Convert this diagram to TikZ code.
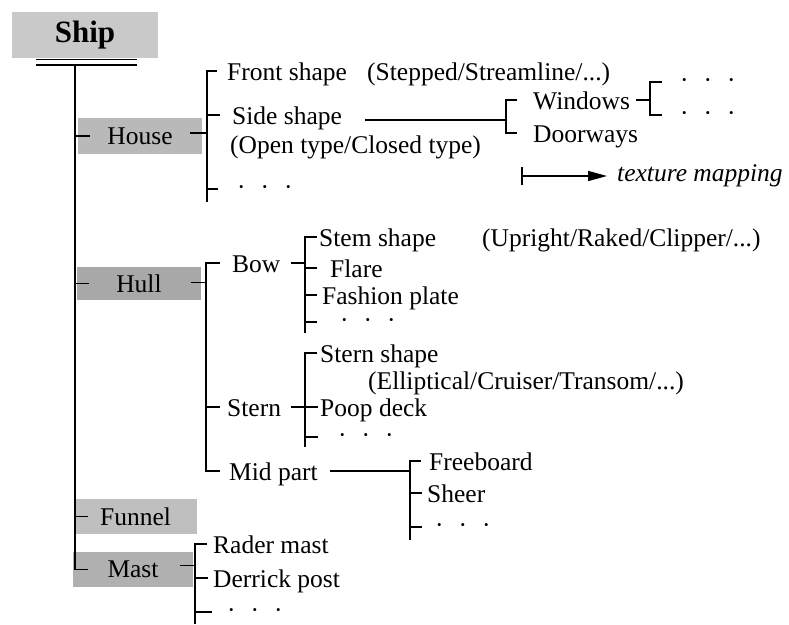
\documentclass[tikz,border=0pt]{standalone}
\usepackage{fontspec}
\setmainfont{Liberation Serif}
\usetikzlibrary{arrows.meta,calc}
\begin{document}
\begin{tikzpicture}[x=1pt,y=-1pt,
  ln/.style={line width=1.7pt},
  tk/.style={ln,shorten <=#1},
  lbl/.style={anchor=west,inner sep=0pt,text height=18pt,text depth=0pt,font=\fontsize{25.5}{28}\selectfont},
  dlbl/.style={anchor=west,inner sep=0pt,text height=12pt,text depth=0pt,font=\fontsize{25.5}{28}\selectfont},
  ilbl/.style={anchor=west,inner sep=0pt,text height=11.5pt,text depth=0pt,font=\fontsize{25.5}{28}\selectfont\itshape},
  gbox/.style={fill=#1,inner sep=0pt,font=\fontsize{25.5}{28}\selectfont},
]
\useasboundingbox (0,0) rectangle (789,624);
\newcommand{\tdots}{\textperiodcentered\hspace{15pt}\textperiodcentered\hspace{15pt}\textperiodcentered}

% boxes
\node[gbox=gray!42,minimum width=146pt,minimum height=46pt,font=\fontsize{31}{34}\selectfont\bfseries] (ship) at (85,35) {Ship};
\node[gbox=gray!55,minimum width=124pt,minimum height=36pt] (house) at (140,136) {House};
\node[gbox=gray!68,minimum width=124pt,minimum height=33pt] (hull) at (139,283.5) {Hull};
\node[gbox=gray!50,minimum width=123pt,minimum height=35pt] (funnel) at (135.5,516.5) {Funnel};
\node[gbox=gray!62,minimum width=120pt,minimum height=35pt] (mast) at (133,569.5) {Mast};

% underline of Ship
\coordinate (ul1a) at (36,59); \coordinate (ul1b) at (137,59);
\coordinate (ul2a) at (36,65); \coordinate (ul2b) at (137,65);
\draw[line width=0.9pt] (ul1a) -- (ul1b);
\draw[line width=2.3pt] (ul2a) -- (ul2b);
\coordinate (trunktop) at (75,65);

% House subtree
\node[lbl] (front) at (227,71) {Front shape};
\node[lbl] (frontp) at (367,71) {(Stepped/Streamline/...)};
\node[lbl] (side) at (232,115) {Side shape};
\node[lbl] (openc) at (230,144) {(Open type/Closed type)};
\node[dlbl] (hdots) at (237,189) {\tdots};
\node[lbl] (windows) at (533,100) {Windows};
\node[lbl] (doorways) at (533,133) {Doorways};
\node[dlbl] (wd1) at (680,82) {\tdots};
\node[dlbl] (wd2) at (680,115) {\tdots};
\coordinate (tmstart) at (521,176);
\node[ilbl] (tm) at (617,176) {texture mapping};

% Hull subtree
\node[lbl] (bow) at (232,263) {Bow};
\node[lbl] (stern) at (227,407) {Stern};
\node[lbl] (mid) at (229,471) {Mid part};
\node[lbl] (stem) at (319,237) {Stem shape};
\node[lbl] (stemp) at (482,237) {(Upright/Raked/Clipper/...)};
\node[lbl] (flare) at (330,268) {Flare};
\node[lbl] (fashion) at (322,295) {Fashion plate};
\node[dlbl] (bdots) at (340,322) {\tdots};
\node[lbl] (sshape) at (320,353) {Stern shape};
\node[lbl] (sellip) at (368,380) {(Elliptical/Cruiser/Transom/...)};
\node[lbl] (poop) at (320,407) {Poop deck};
\node[dlbl] (sdots) at (338,437) {\tdots};
\node[lbl] (fb) at (429,461) {Freeboard};
\node[lbl] (sheer) at (427,493) {Sheer};
\node[dlbl] (fdots) at (435,527) {\tdots};

% Mast subtree
\node[lbl] (rader) at (213,544) {Rader mast};
\node[lbl] (derrick) at (213,578) {Derrick post};
\node[dlbl] (mdots) at (227,612) {\tdots};

% bracket x positions
\coordinate (hbx) at (207,0);
\coordinate (hbbot) at (207,202);
\coordinate (wdx) at (506,0);
\coordinate (wdx2) at (650,0);
\coordinate (hlx) at (206,0);
\coordinate (bbx) at (305,0);
\coordinate (bbbot) at (305,333);
\coordinate (sbbot) at (305,447);
\coordinate (fbx) at (410,0);
\coordinate (fbbot) at (410,540);
\coordinate (mbx) at (195,0);
\coordinate (mbbot) at (195,624);

% trunk
\draw[ln] (trunktop) |- ([xshift=15pt]mast.west);
\draw[ln] (trunktop |- house.west) -- ([xshift=12pt]house.west);
\draw[ln] (trunktop |- hull.west) -- ([xshift=12pt]hull.west);
\draw[ln] (trunktop |- funnel.west) -- ([xshift=14pt]funnel.west);

% House
\draw[ln] ([xshift=-12pt,yshift=3pt]house.east) -- (hbx |- 0,133);
\draw[tk=10pt] (front.west) -- (hbx |- front.west) -- (hbbot);
\draw[tk=12pt] (side.west) -- (hbx |- side.west);
\draw[tk=19pt] (hdots.west) -- (hbx |- hdots.west);
\draw[ln,shorten <=23pt] ([yshift=-5pt]side.east) -- (wdx |- 0,120);
\draw[ln,shorten <=16pt,shorten >=16pt] (windows.west) -- (wdx |- windows.west) -- (wdx |- doorways.west) -- (doorways.west);
\draw[ln,shorten <=6pt] (windows.east) -- (wdx2 |- windows.east);
\draw[ln,shorten <=18pt,shorten >=18pt] (wd1.west) -- (wdx2 |- wd1.west) -- (wdx2 |- wd2.west) -- (wd2.west);
\draw[line width=1.5pt,{Bar[width=18pt]}-{Triangle[length=19pt,width=10pt]},shorten >=10pt] (tmstart) -- (tm.west);

% Hull
\draw[ln] ([xshift=-10pt,yshift=1pt]hull.east) -- (hlx |- 0,282.5);
\draw[ln,shorten <=12pt,shorten >=9pt] (bow.west) -- (hlx |- bow.west) -- (hlx |- mid.west) -- (mid.west);
\draw[tk=7pt] (stern.west) -- (hlx |- stern.west);
\draw[ln,shorten <=10pt] (bow.east) -- (bbx |- bow.east);
\draw[tk=2pt] (stem.west) -- (bbx |- stem.west) -- (bbbot);
\draw[tk=13pt] (flare.west) -- (bbx |- flare.west);
\draw[tk=5pt] (fashion.west) -- (bbx |- fashion.west);
\draw[tk=23pt] (bdots.west) -- (bbx |- bdots.west);
\draw[tk=3pt] (sshape.west) -- (bbx |- sshape.west) -- (sbbot);
\draw[ln,shorten <=10pt,shorten >=2pt] (stern.east) -- (poop.west);
\draw[tk=20pt] (sdots.west) -- (bbx |- sdots.west);
\draw[ln,shorten <=12pt] (mid.east) -- (fbx |- mid.east);
\draw[tk=8pt] (fb.west) -- (fbx |- fb.west) -- (fbbot);
\draw[tk=5pt] (sheer.west) -- (fbx |- sheer.west);
\draw[tk=13pt] (fdots.west) -- (fbx |- fdots.west);

% Mast
\draw[ln] ([xshift=-13pt,yshift=4pt]mast.east) -- (mbx |- 0,565.5);
\draw[tk=6pt] (rader.west) -- (mbx |- rader.west) -- (mbbot);
\draw[tk=5pt] (derrick.west) -- (mbx |- derrick.west);
\draw[tk=15pt] (mdots.west) -- (mbx |- mdots.west);
\end{tikzpicture}
\end{document}
